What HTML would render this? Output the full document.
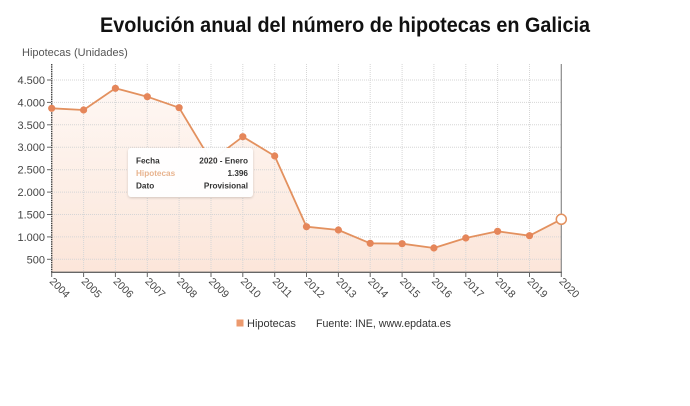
<!DOCTYPE html>
<html><head><meta charset="utf-8"><style>
html,body{margin:0;padding:0;background:#fff;}
svg{display:block;font-family:"Liberation Sans",sans-serif;}
</style></head><body>
<svg width="690" height="406" viewBox="0 0 690 406" xmlns="http://www.w3.org/2000/svg">
<defs>
<linearGradient id="fg" x1="0" y1="64" x2="0" y2="272" gradientUnits="userSpaceOnUse">
<stop offset="0" stop-color="#f3a57a" stop-opacity="0.06"/>
<stop offset="1" stop-color="#f3a57a" stop-opacity="0.28"/>
</linearGradient>
<filter id="sh" x="-10%" y="-10%" width="120%" height="130%"><feDropShadow dx="0" dy="1" stdDeviation="1.2" flood-color="#000" flood-opacity="0.18"/></filter>
</defs>
<text x="345" y="32" text-anchor="middle" font-size="21" font-weight="bold" fill="#111" textLength="490" lengthAdjust="spacingAndGlyphs">Evolución anual del número de hipotecas en Galicia</text>
<text x="22" y="56" font-size="11" fill="#555">Hipotecas (Unidades)</text>

<!-- fill -->
<path d="M51.7,108.3 L83.6,110 L115.4,88.3 L147.3,96.7 L179.1,107.7 L211,160.7 L242.8,136.7 L274.7,156 L306.5,226.7 L338.4,230 L370.2,243.3 L402.1,243.7 L433.9,248 L465.8,238 L497.6,231.3 L529.5,235.7 L561.3,219.3 L561.3,272.3 L51.7,272.3 Z" fill="url(#fg)"/>

<!-- grid -->
<g stroke="#d6d6d6" stroke-width="1" stroke-dasharray="1,1">
<line x1="52" y1="80" x2="561" y2="80"/>
<line x1="52" y1="102.4" x2="561" y2="102.4"/>
<line x1="52" y1="124.8" x2="561" y2="124.8"/>
<line x1="52" y1="147.2" x2="561" y2="147.2"/>
<line x1="52" y1="169.7" x2="561" y2="169.7"/>
<line x1="52" y1="192.1" x2="561" y2="192.1"/>
<line x1="52" y1="214.5" x2="561" y2="214.5"/>
<line x1="52" y1="236.9" x2="561" y2="236.9"/>
<line x1="52" y1="259.3" x2="561" y2="259.3"/>
<line x1="83.6" y1="64" x2="83.6" y2="272"/>
<line x1="115.4" y1="64" x2="115.4" y2="272"/>
<line x1="147.3" y1="64" x2="147.3" y2="272"/>
<line x1="179.1" y1="64" x2="179.1" y2="272"/>
<line x1="211" y1="64" x2="211" y2="272"/>
<line x1="242.8" y1="64" x2="242.8" y2="272"/>
<line x1="274.7" y1="64" x2="274.7" y2="272"/>
<line x1="306.5" y1="64" x2="306.5" y2="272"/>
<line x1="338.4" y1="64" x2="338.4" y2="272"/>
<line x1="370.2" y1="64" x2="370.2" y2="272"/>
<line x1="402.1" y1="64" x2="402.1" y2="272"/>
<line x1="433.9" y1="64" x2="433.9" y2="272"/>
<line x1="465.8" y1="64" x2="465.8" y2="272"/>
<line x1="497.6" y1="64" x2="497.6" y2="272"/>
<line x1="529.5" y1="64" x2="529.5" y2="272"/>
</g>

<!-- axes -->
<line x1="51.7" y1="64" x2="51.7" y2="272.5" stroke="#444" stroke-width="1.4" stroke-dasharray="1.5,0.8"/>
<line x1="561.3" y1="64" x2="561.3" y2="272.5" stroke="#8a8a8a" stroke-width="1.2"/>
<line x1="51" y1="272.3" x2="562" y2="272.3" stroke="#666" stroke-width="1.4"/>
<g stroke="#666" stroke-width="1">
<line x1="51.7" y1="272" x2="51.7" y2="277"/><line x1="83.6" y1="272" x2="83.6" y2="277"/><line x1="115.4" y1="272" x2="115.4" y2="277"/><line x1="147.3" y1="272" x2="147.3" y2="277"/><line x1="179.1" y1="272" x2="179.1" y2="277"/><line x1="211" y1="272" x2="211" y2="277"/><line x1="242.8" y1="272" x2="242.8" y2="277"/><line x1="274.7" y1="272" x2="274.7" y2="277"/><line x1="306.5" y1="272" x2="306.5" y2="277"/><line x1="338.4" y1="272" x2="338.4" y2="277"/><line x1="370.2" y1="272" x2="370.2" y2="277"/><line x1="402.1" y1="272" x2="402.1" y2="277"/><line x1="433.9" y1="272" x2="433.9" y2="277"/><line x1="465.8" y1="272" x2="465.8" y2="277"/><line x1="497.6" y1="272" x2="497.6" y2="277"/><line x1="529.5" y1="272" x2="529.5" y2="277"/><line x1="561.3" y1="272" x2="561.3" y2="277"/>
<line x1="47" y1="80" x2="51" y2="80"/><line x1="47" y1="102.4" x2="51" y2="102.4"/><line x1="47" y1="124.8" x2="51" y2="124.8"/><line x1="47" y1="147.2" x2="51" y2="147.2"/><line x1="47" y1="169.7" x2="51" y2="169.7"/><line x1="47" y1="192.1" x2="51" y2="192.1"/><line x1="47" y1="214.5" x2="51" y2="214.5"/><line x1="47" y1="236.9" x2="51" y2="236.9"/><line x1="47" y1="259.3" x2="51" y2="259.3"/>
</g>

<!-- y labels -->
<g font-size="11" fill="#444" text-anchor="end">
<text x="45" y="84">4.500</text>
<text x="45" y="106.4">4.000</text>
<text x="45" y="128.8">3.500</text>
<text x="45" y="151.2">3.000</text>
<text x="45" y="173.7">2.500</text>
<text x="45" y="196.1">2.000</text>
<text x="45" y="218.5">1.500</text>
<text x="45" y="240.9">1.000</text>
<text x="45" y="263.3">500</text>
</g>

<!-- x labels -->
<g font-size="10.5" fill="#444">
<text transform="translate(49,282) rotate(45)">2004</text>
<text transform="translate(80.9,282) rotate(45)">2005</text>
<text transform="translate(112.7,282) rotate(45)">2006</text>
<text transform="translate(144.6,282) rotate(45)">2007</text>
<text transform="translate(176.4,282) rotate(45)">2008</text>
<text transform="translate(208.3,282) rotate(45)">2009</text>
<text transform="translate(240.1,282) rotate(45)">2010</text>
<text transform="translate(272,282) rotate(45)">2011</text>
<text transform="translate(303.8,282) rotate(45)">2012</text>
<text transform="translate(335.7,282) rotate(45)">2013</text>
<text transform="translate(367.5,282) rotate(45)">2014</text>
<text transform="translate(399.4,282) rotate(45)">2015</text>
<text transform="translate(431.2,282) rotate(45)">2016</text>
<text transform="translate(463.1,282) rotate(45)">2017</text>
<text transform="translate(494.9,282) rotate(45)">2018</text>
<text transform="translate(526.8,282) rotate(45)">2019</text>
<text transform="translate(558.6,282) rotate(45)">2020</text>
</g>

<!-- line -->
<polyline points="51.7,108.3 83.6,110 115.4,88.3 147.3,96.7 179.1,107.7 211,160.7 242.8,136.7 274.7,156 306.5,226.7 338.4,230 370.2,243.3 402.1,243.7 433.9,248 465.8,238 497.6,231.3 529.5,235.7 561.3,219.3" fill="none" stroke="#e3915f" stroke-width="1.8" stroke-linejoin="round"/>
<g fill="#e5865a">
<circle cx="51.7" cy="108.3" r="3.6"/><circle cx="83.6" cy="110" r="3.6"/><circle cx="115.4" cy="88.3" r="3.6"/><circle cx="147.3" cy="96.7" r="3.6"/><circle cx="179.1" cy="107.7" r="3.6"/><circle cx="211" cy="160.7" r="3.6"/><circle cx="242.8" cy="136.7" r="3.6"/><circle cx="274.7" cy="156" r="3.6"/><circle cx="306.5" cy="226.7" r="3.6"/><circle cx="338.4" cy="230" r="3.6"/><circle cx="370.2" cy="243.3" r="3.6"/><circle cx="402.1" cy="243.7" r="3.6"/><circle cx="433.9" cy="248" r="3.6"/><circle cx="465.8" cy="238" r="3.6"/><circle cx="497.6" cy="231.3" r="3.6"/><circle cx="529.5" cy="235.7" r="3.6"/>
</g>
<circle cx="561.3" cy="219.3" r="5" fill="#fff" stroke="#e3915f" stroke-width="1.5"/>

<!-- tooltip -->
<rect x="128" y="148" width="125" height="49" rx="3" fill="#fff" fill-opacity="0.97" filter="url(#sh)"/>
<g font-size="8.2" font-weight="bold">
<text x="136" y="163.5" fill="#333">Fecha</text>
<text x="248" y="163.5" fill="#333" text-anchor="end">2020 - Enero</text>
<text x="136" y="176" fill="#e8b48f">Hipotecas</text>
<text x="248" y="176" fill="#333" text-anchor="end">1.396</text>
<text x="136" y="188.5" fill="#333">Dato</text>
<text x="248" y="188.5" fill="#333" text-anchor="end">Provisional</text>
</g>

<!-- legend -->
<rect x="236.5" y="319.5" width="7" height="7" fill="#ec9a6e"/>
<text x="247" y="327" font-size="11" fill="#333">Hipotecas</text>
<text x="316" y="327" font-size="11" fill="#333" textLength="135" lengthAdjust="spacingAndGlyphs">Fuente: INE, www.epdata.es</text>
</svg>
</body></html>
